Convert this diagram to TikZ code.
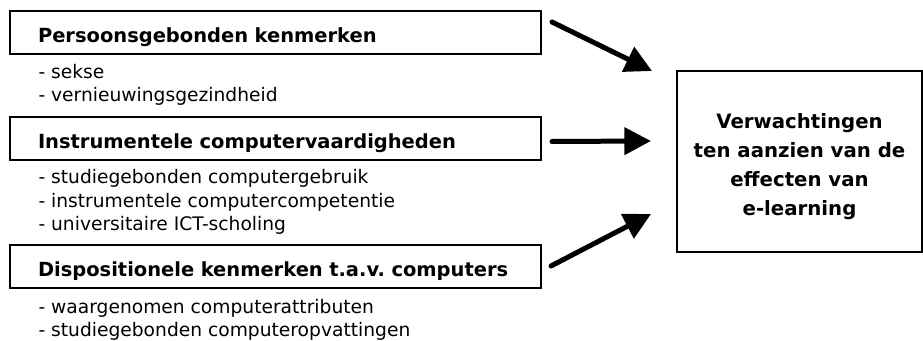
\documentclass[tikz,border=0pt]{standalone}
\usepackage{fontspec}
\setmainfont{DejaVu Sans}
\usetikzlibrary{arrows.meta}

\begin{document}
\frenchspacing
\begin{tikzpicture}[x=0.75pt,y=-0.75pt,>={Triangle[length=20pt,width=20pt]},line width=3.75pt,line cap=round,
    head node/.style={draw,line width=1.5pt,rectangle,anchor=west,minimum height=32.25pt,text width=356.25pt,inner xsep=21pt,inner ysep=2pt,text height=15pt,text depth=0pt,align=left,font=\fontsize{14.6}{16}\selectfont\bfseries},
    item node/.style={anchor=base west,inner sep=0pt,align=left,font=\fontsize{14}{17.75}\selectfont},
    goal node/.style={draw,line width=1.5pt,rectangle,minimum width=183.75pt,minimum height=135.75pt},
    goal text/.style={align=center,inner sep=0pt,font=\fontsize{14.8}{21.75}\selectfont\bfseries}]
    \useasboundingbox (0,0) rectangle (923,341);

    \node[head node] (1) at (9,32.5) {Persoonsgebonden kenmerken};
    \node[item node] (1a) at (36,102) {- sekse\\- vernieuwingsgezindheid};

    \node[head node] (2) at (9,138.5) {Instrumentele computervaardigheden};
    \node[item node] (2a) at (36,231) {- studiegebonden computergebruik\\- instrumentele computercompetentie\\- universitaire ICT-scholing};

    \node[head node] (3) at (9,267) {Dispositionele kenmerken t.a.v. computers};
    \node[item node] (3a) at (36,337) {- waargenomen computerattributen\\- studiegebonden computeropvattingen};

    \node[goal node] (4) at (799.5,161.5) {};
    \node[goal text] (4t) at ([yshift=-4pt]4.center) {Verwachtingen\\ten aanzien van de\\effecten van\\e-learning};

    % arrow tips stop short of the box
    \coordinate (t1) at ([shift={(-24,1)}]4.north west);
    \coordinate (t2) at ([shift={(-25,-20.5)}]4.west);
    \coordinate (t3) at ([shift={(-25,-39)}]4.south west);

    \draw[->] ([shift={(10,-10.5)}]1.east) -- (t1);
    \draw[->] ([shift={(10,3)}]2.east) -- (t2);
    \draw[->] ([shift={(9,-1)}]3.east) -- (t3);
\end{tikzpicture}
\end{document}
